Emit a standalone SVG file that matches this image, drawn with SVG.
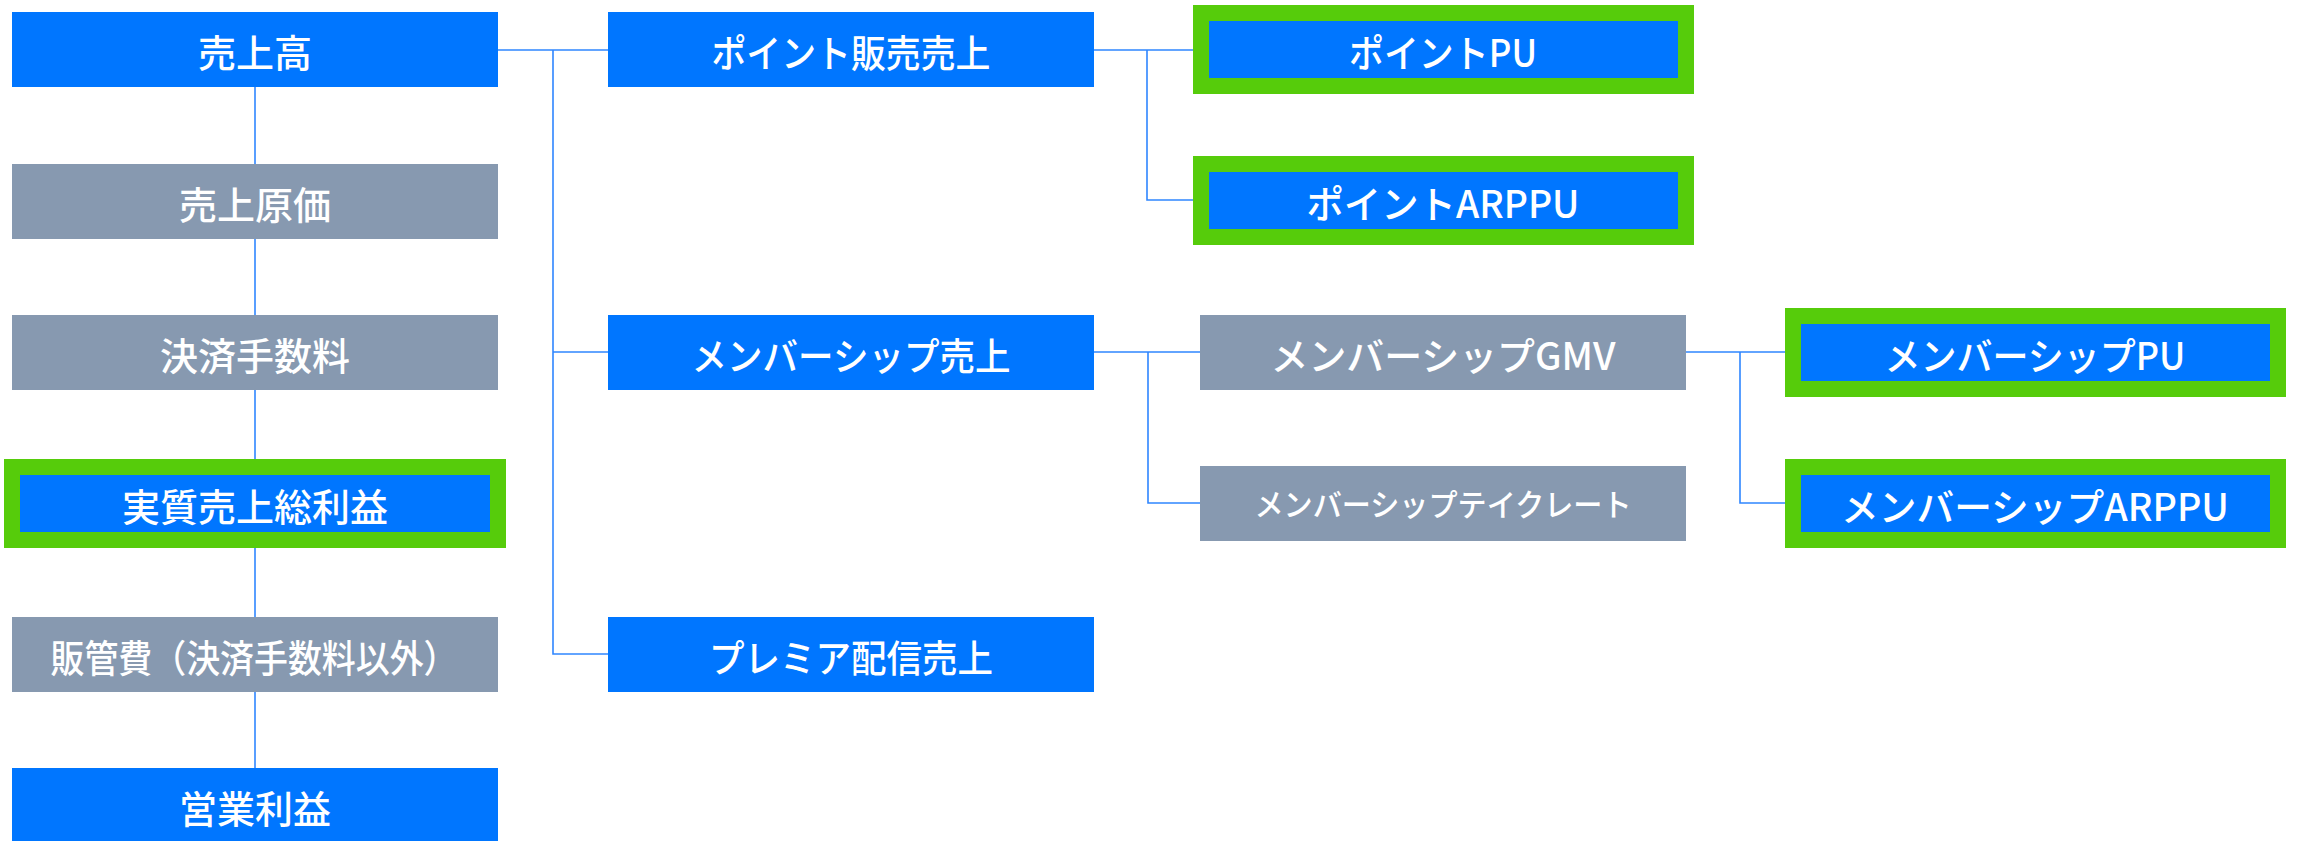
<svg xmlns="http://www.w3.org/2000/svg" width="2297" height="841" viewBox="0 0 2297 841">
<style>
.b{fill:#0076FF}
.g{fill:#8799B0}
.h{fill:#0076FF;stroke:#56CC0B;stroke-width:16}
.t{fill:#FFFFFF;font-family:"Noto Sans CJK JP","Noto Sans",sans-serif;font-size:38px;font-weight:500;text-anchor:middle}
.s{font-size:31px}
.c{fill:none;stroke:#2F86FF;stroke-width:1.6}
</style>
<rect width="2297" height="841" fill="#FFFFFF"/>
<g id="connectors">
<path class="c" d="M255 87V768"/>
<path class="c" d="M498 50H608M553 50V654H608M553 352H608"/>
<path class="c" d="M1094 50H1193M1147 50V200H1193"/>
<path class="c" d="M1094 352H1200M1148 352V503H1200"/>
<path class="c" d="M1686 352H1785M1740 352V503H1785"/>
</g>
<g id="n-uriage"><rect class="b" x="12" y="12" width="486" height="75"/><text class="t" x="255" y="67">売上高</text></g>
<g id="n-genka"><rect class="g" x="12" y="164" width="486" height="75"/><text class="t" x="255" y="219">売上原価</text></g>
<g id="n-kessai"><rect class="g" x="12" y="315" width="486" height="75"/><text class="t" x="255" y="370">決済手数料</text></g>
<g id="n-jisshitsu"><rect class="h" x="12" y="467" width="486" height="73"/><text class="t" x="255" y="521">実質売上総利益</text></g>
<g id="n-hankan"><rect class="g" x="12" y="617" width="486" height="75"/><text class="t" x="254" y="672" textLength="407" lengthAdjust="spacingAndGlyphs">販管費（決済手数料以外）</text></g>
<g id="n-eigyo"><rect class="b" x="12" y="768" width="486" height="75"/><text class="t" x="255" y="823">営業利益</text></g>
<g id="n-point"><rect class="b" x="608" y="12" width="486" height="75"/><text class="t" x="851" y="67" textLength="279" lengthAdjust="spacingAndGlyphs">ポイント販売売上</text></g>
<g id="n-member"><rect class="b" x="608" y="315" width="486" height="75"/><text class="t" x="851" y="370" textLength="319" lengthAdjust="spacingAndGlyphs">メンバーシップ売上</text></g>
<g id="n-premier"><rect class="b" x="608" y="617" width="486" height="75"/><text class="t" x="851" y="672" textLength="284" lengthAdjust="spacingAndGlyphs">プレミア配信売上</text></g>
<g id="n-point-pu"><rect class="h" x="1201" y="13" width="485" height="73"/><text class="t" x="1443" y="67" textLength="188" lengthAdjust="spacingAndGlyphs">ポイントPU</text></g>
<g id="n-point-arppu"><rect class="h" x="1201" y="164" width="485" height="73"/><text class="t" x="1443" y="218" textLength="273" lengthAdjust="spacingAndGlyphs">ポイントARPPU</text></g>
<g id="n-gmv"><rect class="g" x="1200" y="315" width="486" height="75"/><text class="t" x="1443" y="370" textLength="345" lengthAdjust="spacingAndGlyphs">メンバーシップGMV</text></g>
<g id="n-take"><rect class="g" x="1200" y="466" width="486" height="75"/><text class="t s" x="1443" y="516" textLength="377" lengthAdjust="spacingAndGlyphs">メンバーシップテイクレート</text></g>
<g id="n-member-pu"><rect class="h" x="1793" y="316" width="485" height="73"/><text class="t" x="2035" y="370" textLength="301" lengthAdjust="spacingAndGlyphs">メンバーシップPU</text></g>
<g id="n-member-arppu"><rect class="h" x="1793" y="467" width="485" height="73"/><text class="t" x="2035" y="521" textLength="388" lengthAdjust="spacingAndGlyphs">メンバーシップARPPU</text></g>
</svg>
